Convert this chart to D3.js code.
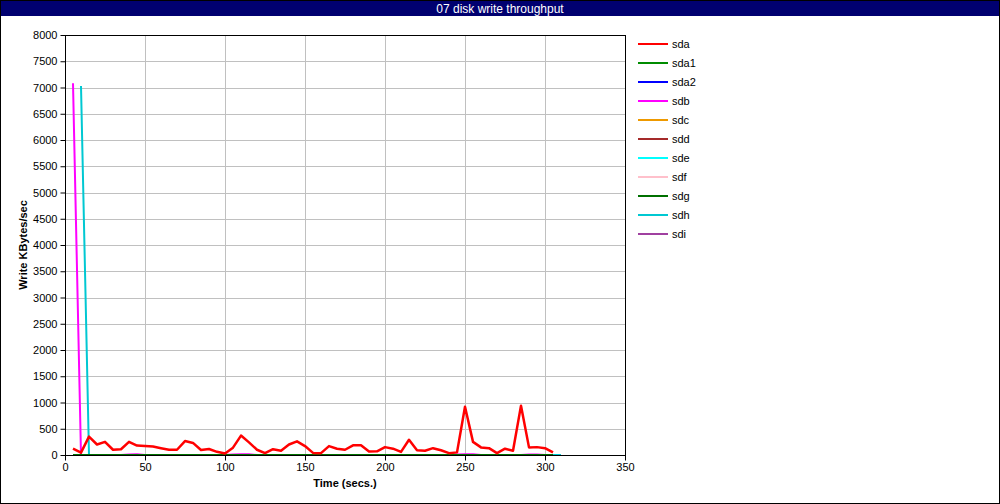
<!DOCTYPE html>
<html><head><meta charset="utf-8">
<script src="https://cdn.jsdelivr.net/npm/d3@7"></script>
<style>
html,body{margin:0;padding:0;background:#fff;}
svg{display:block;font-family:"Liberation Sans",Arial,Helvetica,sans-serif;}
</style></head>
<body>
<script>
const title = "07 disk write throughput";
const xLabel = "Time (secs.)";
const yLabel = "Write KBytes/sec";
const seriesNames = ["sda","sda1","sda2","sdb","sdc","sdd","sde","sdf","sdg","sdh","sdi"];
const seriesColors = ["#ff0000","#008c00","#0000ff","#ff00ff","#ee9900","#a52a2a","#00ffff","#ffc0cb","#007000","#00c8d2","#a040a0"];
const xTicks = [0,50,100,150,200,250,300,350];
const yTicks = [0,500,1000,1500,2000,2500,3000,3500,4000,4500,5000,5500,6000,6500,7000,7500,8000];

const time = [5,10,15,20,25,30,35,40,45,50,55,60,65,70,75,80,85,90,95,100,105,110,115,120,125,130,135,140,145,150,155,160,165,170,175,180,185,190,195,200,205,210,215,220,225,230,235,240,245,250,255,260,265,270,275,280,285,290,295,300,305];
const timeH = [10,15,20,25,30,35,40,45,50,55,60,65,70,75,80,85,90,95,100,105,110,115,120,125,130,135,140,145,150,155,160,165,170,175,180,185,190,195,200,205,210,215,220,225,230,235,240,245,250,255,260,265,270,275,280,285,290,295,300,305,310];

const sda = [120,45,350,200,250,100,110,250,180,170,160,130,100,100,265,230,95,115,60,30,140,370,240,100,35,110,80,200,260,170,40,35,170,120,100,185,185,65,70,150,120,60,290,90,80,130,90,35,50,920,250,145,130,35,120,80,940,145,150,130,50];
const sdb = [7080,0,0,0,0,0,0,10,15,0,0,0,0,0,0,0,0,0,0,0,10,15,15,0,0,0,0,0,0,0,0,0,0,0,0,0,0,0,0,0,0,0,0,0,0,0,0,0,10,15,15,0,0,0,0,0,0,10,10,0,0];
const sdh = [7030,0,0,0,0,0,0,0,0,0,0,0,0,0,0,0,0,0,0,0,0,0,0,0,0,0,0,0,0,0,0,0,0,0,0,0,0,0,0,0,0,0,0,0,0,0,0,0,0,0,0,0,0,0,0,0,0,0,0,0,0];
const zeros = [0,0,0,0,0,0,0,0,0,0,0,0,0,0,0,0,0,0,0,0,0,0,0,0,0,0,0,0,0,0,0,0,0,0,0,0,0,0,0,0,0,0,0,0,0,0,0,0,0,0,0,0,0,0,0,0,0,0,0,0,0];
const sda1 = zeros, sda2 = zeros, sdc = zeros, sdd = zeros, sde = zeros, sdf = zeros, sdg = zeros, sdi = zeros;

const seriesValues = {sda, sda1, sda2, sdb, sdc, sdd, sde, sdf, sdg, sdh, sdi};
const seriesTimes = {sdh: timeH};

const W = 1000, H = 504;
const svg = d3.select("body").append("svg").attr("width", W).attr("height", H);

svg.append("rect").attr("x",0.5).attr("y",0.5).attr("width",W-1).attr("height",H-1)
  .attr("fill","#fff").attr("stroke","#000");
svg.append("rect").attr("x",1).attr("y",1).attr("width",W-2).attr("height",15).attr("fill","#000070");
svg.append("text").attr("x",W/2).attr("y",12.5).attr("text-anchor","middle")
  .attr("fill","#fff").attr("font-size",12).text(title);

const L = 65, R = 625, T = 35, B = 455;
const x = d3.scaleLinear().domain([0,350]).range([L,R]);
const y = d3.scaleLinear().domain([0,8000]).range([B,T]);

// grid
const g = svg.append("g");
g.selectAll(".gx").data(xTicks).join("line")
  .attr("x1",d=>Math.round(x(d))+0.5).attr("x2",d=>Math.round(x(d))+0.5)
  .attr("y1",T).attr("y2",B).attr("stroke","#c0c0c0");
g.selectAll(".gy").data(yTicks).join("line")
  .attr("y1",d=>Math.round(y(d))+0.5).attr("y2",d=>Math.round(y(d))+0.5)
  .attr("x1",L).attr("x2",R).attr("stroke","#c0c0c0");

// axes
const xAxis = d3.axisBottom(x).tickValues(xTicks).tickFormat(d3.format("d")).tickSize(5).tickPadding(3);
const yAxis = d3.axisLeft(y).tickValues(yTicks).tickFormat(d3.format("d")).tickSize(5).tickPadding(3);
const gx = svg.append("g").attr("transform",`translate(0,${B+0.5})`).call(xAxis);
const gy = svg.append("g").attr("transform",`translate(${L+0.5},0)`).call(yAxis);
[gx,gy].forEach(a=>{
  a.select(".domain").remove();
  a.selectAll("line").attr("stroke","#000");
  a.selectAll("text").attr("font-size",11).attr("fill","#000")
   .attr("font-family","'Liberation Sans',Arial,sans-serif");
});

// clip
svg.append("clipPath").attr("id","clip").append("rect")
  .attr("x",L).attr("y",T).attr("width",R-L).attr("height",B-T);

const line = d3.line().x(d=>x(d[0])).y(d=>y(d[1]));
const drawOrder = ["sda2","sdc","sdd","sde","sdf","sdi","sdb","sdh","sda1","sdg","sda"];
const lines = svg.append("g").attr("clip-path","url(#clip)");
drawOrder.forEach(name=>{
  const i = seriesNames.indexOf(name);
  const t = seriesTimes[name] || time;
  const pts = t.map((tt,k)=>[tt, seriesValues[name][k]]);
  lines.append("path").datum(pts).attr("d",line)
    .attr("fill","none").attr("stroke",seriesColors[i])
    .attr("stroke-width", name==="sda" ? 2.5 : 2)
    .attr("stroke-linejoin","round");
});

// frame
svg.append("rect").attr("x",L+0.5).attr("y",T+0.5).attr("width",R-L).attr("height",B-T)
  .attr("fill","none").attr("stroke","#000");

// axis titles
svg.append("text").attr("x",(L+R)/2).attr("y",487).attr("text-anchor","middle")
  .attr("font-size",11).attr("font-weight","bold").text(xLabel);
svg.append("text").attr("transform",`translate(27,${(T+B)/2}) rotate(-90)`)
  .attr("text-anchor","middle").attr("font-size",11).attr("font-weight","bold").text(yLabel);

// legend
const lg = svg.append("g");
seriesNames.forEach((n,i)=>{
  const yy = 44 + i*19;
  lg.append("line").attr("x1",638).attr("x2",668).attr("y1",yy).attr("y2",yy)
    .attr("stroke",seriesColors[i]).attr("stroke-width",2);
  lg.append("text").attr("x",672).attr("y",yy+4).attr("font-size",11).text(n);
});
</script>
</body></html>
